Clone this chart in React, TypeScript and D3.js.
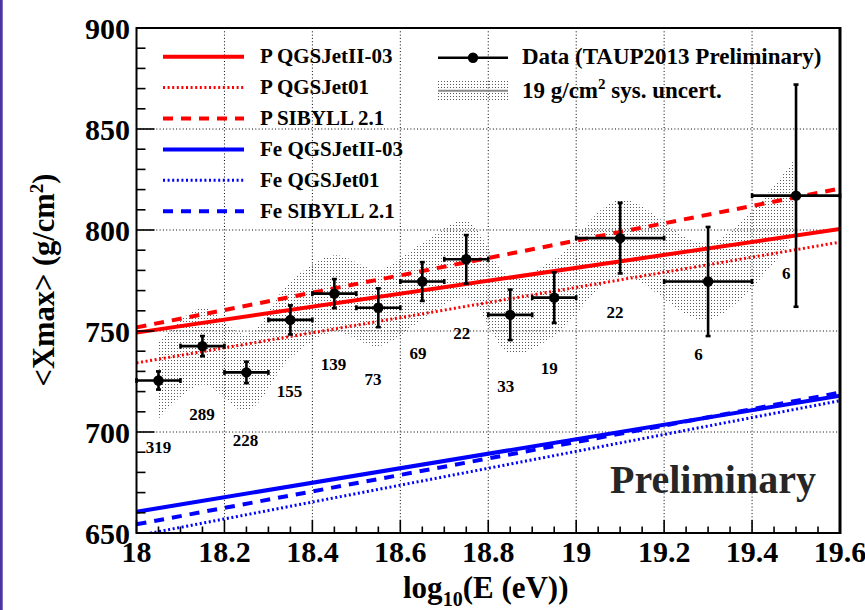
import React from 'react';
import * as d3 from 'd3';

// Measured <Xmax> per energy bin
const logE = [18.05, 18.15, 18.25, 18.35, 18.45, 18.55, 18.65, 18.75, 18.85, 18.95, 19.1, 19.3, 19.5];
const halfBin = [0.05, 0.05, 0.05, 0.05, 0.05, 0.05, 0.05, 0.05, 0.05, 0.05, 0.1, 0.1, 0.1];
const xmax = [725.5, 742.5, 729.5, 755.5, 768.5, 761.5, 774.5, 785.5, 758, 766.5, 796, 774.5, 817];
const xmaxErr = [4.5, 5, 5.3, 7.2, 7.2, 9.6, 9.6, 12, 12.5, 12.5, 17.5, 27, 55];
const sysUncert = 19;

// Number of events per bin and where each count is written (data units)
const eventCounts = [319, 289, 228, 155, 139, 73, 69, 22, 33, 19, 22, 6, 6];
const countX = [18.05, 18.149, 18.248, 18.348, 18.448, 18.538, 18.64, 18.74, 18.84, 18.939, 19.088, 19.278, 19.478];
const countY = [689.6, 706, 693, 717.5, 730.7, 723.3, 736.1, 746.2, 720, 728.7, 756.4, 735.6, 775.7];

// Model predictions (straight lines in log10 E)
const modelE = [18.0, 19.6];
const pQgsII = [749.2, 800.5];
const pQgs01 = [734.2, 794];
const pSibyll = [751.8, 820.5];
const feQgsII = [660.5, 718];
const feQgs01 = [648.6, 715.5];
const feSibyll = [654.3, 719.5];

const modelNames = ['P QGSJetII-03', 'P QGSJet01', 'P SIBYLL 2.1', 'Fe QGSJetII-03', 'Fe QGSJet01', 'Fe SIBYLL 2.1'];

// Axis ticks
const xMajor = [18, 18.2, 18.4, 18.6, 18.8, 19, 19.2, 19.4, 19.6];
const xTickLabels = ['18', '18.2', '18.4', '18.6', '18.8', '19', '19.2', '19.4', '19.6'];
const yMajor = [650, 700, 750, 800, 850, 900];
const yTickLabels = ['650', '700', '750', '800', '850', '900'];

const FONT = '"Liberation Serif", "Times New Roman", serif';

export default function App() {
  const W = 865;
  const H = 610;
  const left = 136.5, right = 840, top = 28, bottom = 533;
  const x = d3.scaleLinear().domain([18, 19.6]).range([left, right]);
  const y = d3.scaleLinear().domain([650, 900]).range([bottom, top]);

  const xMinor = d3.range(18, 19.6001, 0.05).filter((v) => !xMajor.some((m) => Math.abs(m - v) < 1e-6));
  const yMinor = d3.range(650, 900.1, 10).filter((v) => v % 50 !== 0);

  const pts = logE.map((e, i) => ({ e, v: xmax[i], err: xmaxErr[i], hb: halfBin[i] }));

  const band = d3
    .area<{ e: number; v: number }>()
    .x((d) => x(d.e))
    .y0((d) => y(d.v - sysUncert))
    .y1((d) => y(d.v + sysUncert))
    .curve(d3.curveCatmullRom.alpha(0.5));

  const modelLine = (vals: number[]) =>
    d3.line<number>().x((_, i) => x(modelE[i])).y((v) => y(v))(vals) as string;

  const models = [
    { vals: pQgsII, color: '#ff0000', dash: '', w: 4 },
    { vals: pQgs01, color: '#ff0000', dash: '2 2.6', w: 3 },
    { vals: pSibyll, color: '#ff0000', dash: '10 8', w: 4 },
    { vals: feQgsII, color: '#0000ff', dash: '', w: 4 },
    { vals: feQgs01, color: '#0000ff', dash: '2 2.6', w: 3 },
    { vals: feSibyll, color: '#0000ff', dash: '10 8', w: 4 },
  ];

  const gridDash = '1 2.3';

  return (
    <svg
      width={W}
      height={H}
      style={{ position: 'absolute', left: 0, top: 0, background: '#fff' }}
      fontFamily={FONT}
      fontWeight="bold"
    >
      <defs>
        <pattern id="sysDots" x="0" y="0" width="3" height="3" patternUnits="userSpaceOnUse">
          <rect x="0" y="0" width="1" height="1" fill="#5a5a5a" />
        </pattern>
        <clipPath id="plotArea">
          <rect x={left} y={top} width={right - left} height={bottom - top} />
        </clipPath>
      </defs>

      {/* left page border */}
      <rect x={0} y={0} width={2.7} height={H} fill="#4a35a3" />

      {/* grid */}
      <g stroke="#000" strokeWidth={1} strokeDasharray={gridDash}>
        {xMajor.slice(1, -1).map((v) => (
          <line key={'gx' + v} x1={x(v)} x2={x(v)} y1={top} y2={bottom} />
        ))}
        {yMajor.slice(1, -1).map((v) => (
          <line key={'gy' + v} x1={left} x2={right} y1={y(v)} y2={y(v)} />
        ))}
      </g>

      <g clipPath="url(#plotArea)">
        {/* systematic uncertainty band */}
        <path d={band(pts) as string} fill="url(#sysDots)" stroke="none" />

        {/* model predictions */}
        {models.map((m, i) => (
          <path
            key={'m' + i}
            d={modelLine(m.vals)}
            fill="none"
            stroke={m.color}
            strokeWidth={m.w}
            strokeDasharray={m.dash || undefined}
          />
        ))}
      </g>

      {/* data points */}
      <g stroke="#000" strokeWidth={2.6}>
        {pts.map((p, i) => {
          const cx = x(p.e);
          const cy = y(p.v);
          const x0 = x(p.e - p.hb);
          const x1 = x(p.e + p.hb);
          const y0 = y(p.v - p.err);
          const y1 = y(p.v + p.err);
          return (
            <g key={'p' + i}>
              <line x1={x0} x2={x1} y1={cy} y2={cy} />
              <line x1={cx} x2={cx} y1={y0} y2={y1} />
              <line x1={x0} x2={x0} y1={cy - 2.5} y2={cy + 2.5} />
              <line x1={x1} x2={x1} y1={cy - 2.5} y2={cy + 2.5} />
              <line x1={cx - 2.5} x2={cx + 2.5} y1={y0} y2={y0} />
              <line x1={cx - 2.5} x2={cx + 2.5} y1={y1} y2={y1} />
              <circle cx={cx} cy={cy} r={5.2} fill="#000" stroke="none" />
            </g>
          );
        })}
      </g>

      {/* event counts */}
      <g fontSize={17} textAnchor="middle" fill="#000">
        {eventCounts.map((c, i) => (
          <text key={'c' + i} x={x(countX[i])} y={y(countY[i])}>
            {c}
          </text>
        ))}
      </g>

      {/* frame */}
      <rect x={left} y={top} width={right - left} height={bottom - top} fill="none" stroke="#000" strokeWidth={2} />
      <line x1={right} x2={right} y1={top - 1} y2={bottom + 1} stroke="#000" strokeWidth={3} />

      {/* axis ticks */}
      <g stroke="#000" strokeWidth={1.6}>
        {xMajor.map((v) => (
          <line key={'xt' + v} x1={x(v)} x2={x(v)} y1={bottom} y2={bottom - 13} />
        ))}
        {xMinor.map((v) => (
          <line key={'xm' + v} x1={x(v)} x2={x(v)} y1={bottom} y2={bottom - 6.5} />
        ))}
        {yMajor.map((v) => (
          <line key={'yt' + v} x1={left} x2={left + 18} y1={y(v)} y2={y(v)} />
        ))}
        {yMinor.map((v) => (
          <line key={'ym' + v} x1={left} x2={left + 9} y1={y(v)} y2={y(v)} />
        ))}
      </g>

      {/* tick labels */}
      <g fontSize={30} fill="#000">
        {xMajor.map((v, i) => (
          <text key={'xl' + v} x={x(v)} y={562} textAnchor="middle">
            {xTickLabels[i]}
          </text>
        ))}
        {yMajor.map((v, i) => (
          <text key={'yl' + v} x={130} y={y(v) + 10.5} textAnchor="end">
            {yTickLabels[i]}
          </text>
        ))}
      </g>

      {/* axis titles */}
      <text x={403} y={598} fontSize={31} fill="#000">
        log
        <tspan dy={8} fontSize={20}>10</tspan>
        <tspan dy={-8}>(E (eV))</tspan>
      </text>
      <text transform="translate(54,280) rotate(-90)" textAnchor="middle" fontSize={30.5} fill="#000">
        {'<Xmax> (g/cm'}
        <tspan dy={-11} fontSize={19}>2</tspan>
        <tspan dy={11}>)</tspan>
      </text>

      {/* Preliminary stamp */}
      <text x={610} y={493} fontSize={40} fill="#262626">
        Preliminary
      </text>

      {/* model legend */}
      <g>
        {models.map((m, i) => {
          const ly = 56.7 + i * 30.9;
          return (
            <g key={'lg' + i}>
              <line
                x1={163}
                x2={244}
                y1={ly}
                y2={ly}
                stroke={m.color}
                strokeWidth={m.w}
                strokeDasharray={m.dash || undefined}
              />
              <text x={260} y={ly + 6.5} fontSize={21} fill="#000">
                {modelNames[i]}
              </text>
            </g>
          );
        })}
      </g>

      {/* data legend */}
      <g>
        <line x1={438} x2={508} y1={57.7} y2={57.7} stroke="#000" strokeWidth={2.6} />
        <circle cx={473} cy={57.7} r={5.2} fill="#000" />
        <text x={522} y={64} fontSize={23} fill="#000">
          Data (TAUP2013 Preliminary)
        </text>
        <rect x={438} y={80} width={70} height={22} fill="url(#sysDots)" />
        <line x1={438} x2={508} y1={90.7} y2={90.7} stroke="#888" strokeWidth={2} />
        <text x={522} y={98} fontSize={23} fill="#000">
          19 g/cm
          <tspan dy={-9} fontSize={15}>2</tspan>
          <tspan dy={9}> sys. uncert.</tspan>
        </text>
      </g>
    </svg>
  );
}
